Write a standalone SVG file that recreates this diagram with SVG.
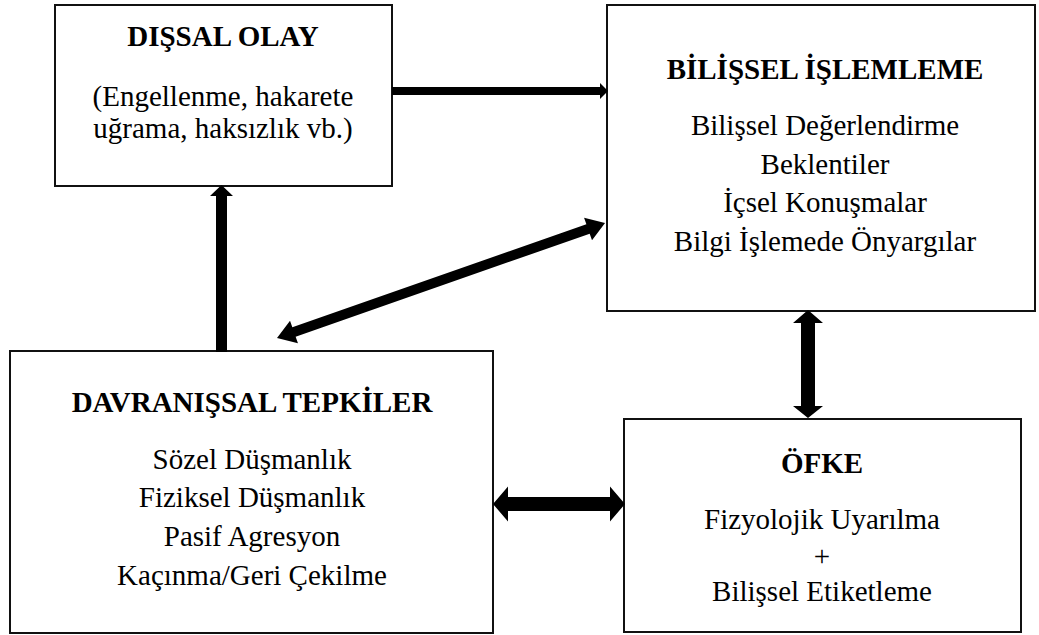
<svg xmlns="http://www.w3.org/2000/svg" width="1039" height="635" viewBox="0 0 1039 635">
<style>
.box{fill:#fff;stroke:#111;stroke-width:2}
text{font-family:'Liberation Serif','Times New Roman',serif;font-size:29px;fill:#000;text-anchor:middle}
.b{font-weight:bold}
.arr{fill:#000;stroke:none}
</style>
<rect width="1039" height="635" fill="#fff"/>
<g id="dissal-olay">
<rect class="box" x="55" y="5" width="337" height="181"/>
<text class="b" x="223" y="46">DIŞSAL OLAY</text>
<text x="223" y="106">(Engellenme, hakarete</text>
<text x="223" y="138">uğrama, haksızlık vb.)</text>
</g>
<g id="bilissel-islemleme">
<rect class="box" x="607" y="5" width="428" height="306"/>
<text class="b" x="825" y="79">BİLİŞSEL İŞLEMLEME</text>
<text x="825" y="135">Bilişsel Değerlendirme</text>
<text x="825" y="174">Beklentiler</text>
<text x="825" y="212">İçsel Konuşmalar</text>
<text x="825" y="251">Bilgi İşlemede Önyargılar</text>
</g>
<g id="davranissal-tepkiler">
<rect class="box" x="10" y="351" width="483" height="282"/>
<text class="b" x="252" y="412">DAVRANIŞSAL TEPKİLER</text>
<text x="252" y="469">Sözel Düşmanlık</text>
<text x="252" y="507">Fiziksel Düşmanlık</text>
<text x="252" y="546">Pasif Agresyon</text>
<text x="252" y="585">Kaçınma/Geri Çekilme</text>
</g>
<g id="ofke">
<rect class="box" x="624" y="419" width="397" height="213"/>
<text class="b" x="822" y="473">ÖFKE</text>
<text x="822" y="529">Fizyolojik Uyarılma</text>
<text x="822" y="566">+</text>
<text x="822" y="601">Bilişsel Etiketleme</text>
</g>
<g id="connectors">
<path class="arr" d="M392,87 H600 V83 L608,91 L600,99 V95 H392 Z"/>
<path class="arr" d="M216,352 V196 H210 L221.5,185 L233,196 H227 V352 Z"/>
<path class="arr" transform="translate(277,338) rotate(-19.32)" d="M0,0 L18,-12 L18,-5 L329.6,-5 L329.6,-12 L347.6,0 L329.6,12 L329.6,5 L18,5 L18,12 Z"/>
<path class="arr" d="M808,310 L823,323 H815 V406 H823 L808,418 L793,406 H801 V323 H793 Z"/>
<path class="arr" d="M493,504 L508,486.5 V497 H610 V486.5 L625,504 L610,521.5 V511 H508 V521.5 Z"/>
</g>
</svg>
